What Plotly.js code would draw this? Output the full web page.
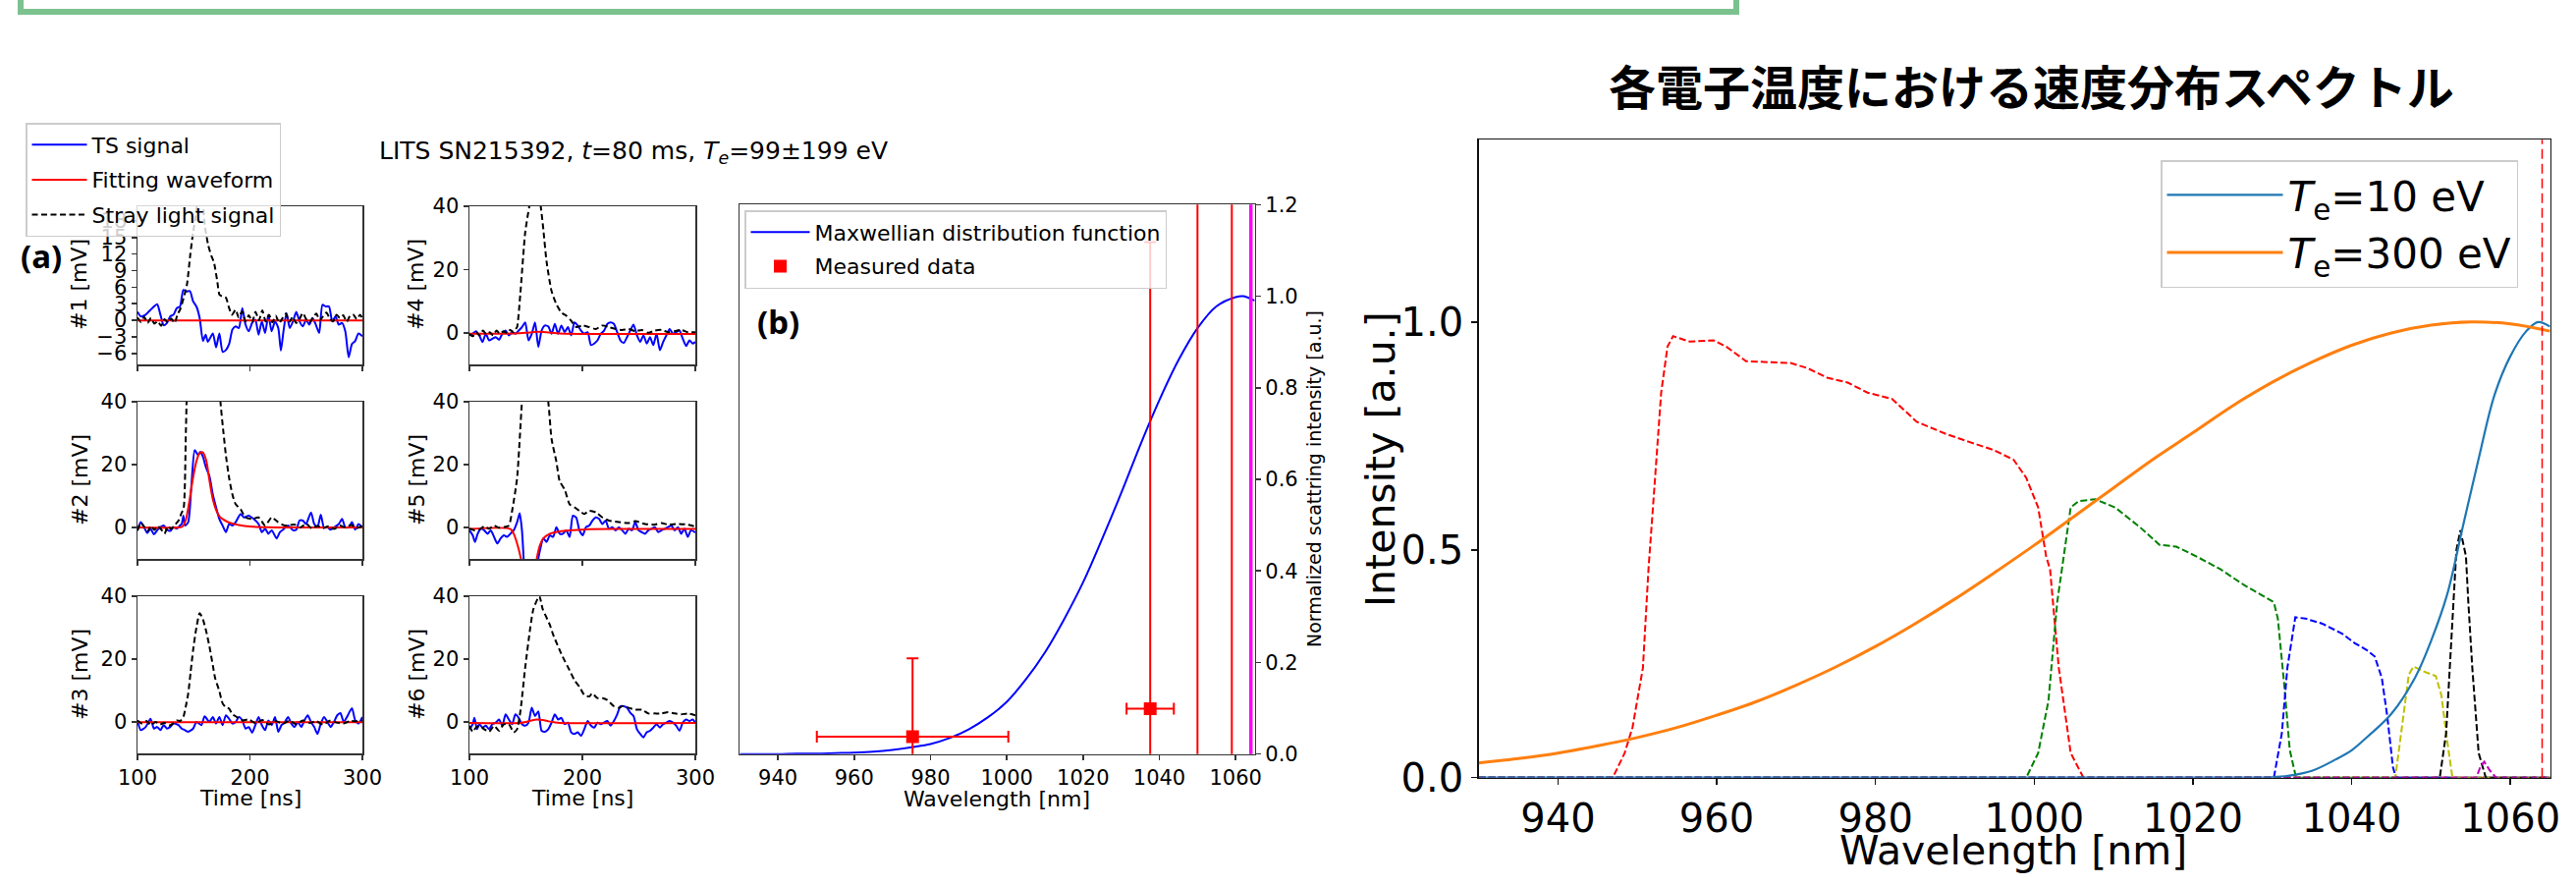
<!DOCTYPE html>
<html><head><meta charset="utf-8">
<script src="https://cdn.plot.ly/plotly-3.0.1.min.js"></script>
<style>html,body{margin:0;padding:0;background:#fff}#chart{width:2623px;height:901px}</style>
</head><body><div id="chart"></div>
<script>
// ---------------- DATA ----------------
// Panel (a): channel waveforms, time in ns, signal in mV
const ch1_t = [100,102.9,107.3,110.2,113.1,117.5,120.4,123.3,126.2,129.1,132.0,134.9,137.8,140.8,143.7,146.6,149.5,152.4,155.3,158.2,160.6,162.6,167.0,169.9,172.8,175.7,178.6,181.5,184.4,187.3,190.2,193.2,196.1,199.0,201.9,204.8,207.7,210.6,213.5,216.4,219.3,222.3,225.2,227.5,229.8,232.5,235.4,238.3,241.2,244.1,247.0,250.0,252.8,255.7,258.6,261.6,264.5,267.4,270.3,273.2,276.1,279.0,281.9,284.8,287.8,290.7,293.6,296.5,300];
const ch1_ts = [1.5,0.7,1.0,1.6,2.2,2.9,1.0,-0.9,-0.5,0.7,1.0,2.2,2.5,5.5,5.2,5.3,3.4,2.5,0.4,-3.75,-2.6,-3.9,-2.4,-4.9,-2.4,-5.7,-5.4,-4.3,-1.7,-1.1,-1.4,2.2,-0.8,-2.0,-0.5,0.1,-2.6,-0.2,-2.3,1.0,-2.0,-0.2,-1.4,-5.5,-2.0,1.3,-1.4,-0.2,1.5,-0.2,-1.1,0.1,-0.8,0.4,-0.8,-2.3,2.8,2.5,2.5,-0.2,0.7,-0.8,-0.5,-2.0,-6.7,-4.3,-3.75,-2.4,-2.9];
const fit1_t = [100,300];
const fit1_v = [-0.05,-0.05];
const stray1_t = [100,103,106,109,112,115,118,121,124,127,130,133,135.5,138,141,144,147,149.5,152,155,158,160,163,166,168,171,173,176,178.6,181.5,184,187.3,190,193,196,199,202,205,208,211,214,217,220,223,226,229,232,235,238,241,244,247,250,253,256,259,262,265,268,271,274,277,280,283,286,289,292,295,298,300];
const stray1_v = [0.5,-0.3,0.6,-0.5,0.4,-0.6,-0.2,-1.0,0.2,-0.4,0.3,-0.5,1.0,2.0,4.0,6.5,12,16,19,24,21.5,17,13.5,11.5,10.5,7,4.6,4.3,4.1,2.2,1.0,1.9,0.5,1.6,-0.2,0.9,-0.3,1.5,0,1.8,-0.2,1.0,-0.4,0.8,-0.5,0.4,1.2,-0.3,0.6,-0.5,0.2,1.3,0.2,-0.4,0.5,1.2,0.0,0.7,1.4,0.3,-0.2,1.0,0.4,0.9,-0.3,0.8,1.0,0.2,1.0,0.3];

const ch2_t = [100,102.9,105.8,108.7,111.6,114.6,117.5,120.4,123.3,126.2,129.1,132.0,134.9,137.8,139.3,140.8,142.2,145.1,148.0,150.9,153.9,155.9,158.2,161.1,164.0,167.0,169.9,172.8,175.7,178.6,181.5,184.4,187.3,191.7,194.6,199.0,203.3,207.7,210.6,213.5,216.4,219.4,223.7,226.6,229.5,233.9,238.3,241.2,244.1,247.0,249.9,254.3,257.2,260.1,263.0,265.9,268.9,271.8,274.7,279.0,281.9,284.9,287.8,290.7,293.6,296.5,300];
const ch2_ts = [-0.9,1.7,0.1,-1.8,-0.4,-2.2,-0.9,0.1,0.6,-0.7,-1.1,0.1,-0.4,0.6,1.1,3.75,0.6,1.7,13.6,24.6,23.0,24.1,22.5,18.9,16.3,10.5,6.4,2.7,0.6,-1.5,1.1,0.6,1.7,4.3,3.2,3.75,2.7,1.1,-1.5,-0.4,-2.0,-0.9,-3.5,-1.5,-0.7,0.6,-0.9,-0.7,2.2,2.2,1.1,4.8,1.1,0.1,4.1,-0.1,0.1,-0.7,0.0,1.1,2.7,0.0,0.0,1.7,-0.7,1.1,0.0];
const fit2_t = [100,136,140,143,146,149,152,155,158,161,164,167,170,173,176,180,185,190,200,215,300];
const fit2_v = [0,0,0.3,2.5,8,15,20.5,23.5,23.9,21.5,15,9,5.5,3.5,2.6,1.8,1.2,0.8,0.3,0.05,0];
const stray2_t = [100,103,106,109,112,115,118,121,124,127,130,133,135,137,139,141,143,145,150,160,170,174,176.5,178.6,181.5,184.4,187.3,191.7,196,202,207.7,213.5,219.3,225,231,240,245,250,255,260,265,270,275,280,285,290,295,300];
const stray2_v = [-1.0,1.5,0.2,-1.2,0.5,-0.8,0.4,-0.6,-2.0,0.3,-0.5,0.8,1.5,2.5,4.5,6,30,60,90,100,60,39,30,23,15.7,10.5,7.4,5.8,3.2,2.7,3.2,0.6,3.2,1.7,0.6,0.9,0.0,1.2,-0.3,0.5,-0.2,0.4,-0.5,0.6,0.0,0.8,-0.2,0.5];

const ch3_t = [100,102.9,107.3,111.6,114.6,117.5,120.4,123.3,126.2,129.1,132.0,136.4,139.3,142.2,145.1,149.5,152.4,156.8,159.7,164.0,167.0,169.9,172.8,175.7,178.6,181.5,184.4,187.3,190.2,193.2,196.1,199.0,201.9,204.8,207.7,210.6,213.5,216.4,219.4,222.3,225.2,228.1,231.0,233.9,236.8,239.7,242.6,245.6,248.5,251.4,254.3,257.2,260.1,263.0,265.9,268.9,271.8,274.7,277.6,280.5,283.4,286.3,290.7,293.6,296.5,300];
const ch3_ts = [0.5,-2.6,-1.6,1.0,-2.1,-1.6,-2.6,-1.0,-2.1,-1.6,-0.5,-1.0,-2.1,-2.6,-3.1,-2.1,0,-1.0,1.8,0,1.6,-0.5,1.6,-1.0,2.1,1.0,-0.5,0,1.6,0.5,-2.1,-1.6,-3.4,-1.0,1.6,-1.0,-2.6,0.5,-1.0,1.6,-3.1,-1.0,0,1.6,-0.5,-1.6,0,-1.6,0.5,2.1,0,-1.6,-3.8,-0.5,1.6,0,-1.6,0,2.1,2.8,0,1.6,4.4,0.5,-0.5,1.6];
const fit3_t = [100,300];
const fit3_v = [-0.1,-0.1];
const stray3_t = [100,104,108,112,116,120,124,128,132,135,138,140.8,143,145.1,147.3,149.5,152.4,155.3,158.2,161,164,167,169,172.8,175.7,178.6,181.5,184.4,187.3,193,199,205,211,217,223,229,235,241,247,253,259,265,271,277,283,289,295,300];
const stray3_v = [0.5,-0.5,0.3,-1.0,0.0,-0.8,-0.3,-1.2,-0.4,0.5,0.3,1.6,5,9,16,23,30,34.6,32.6,29,24,18,14,9.8,5.9,4.7,4.2,2.4,1.8,0.5,0.8,-0.4,0.6,-0.8,0.3,-0.6,0.4,-0.7,0.5,-0.3,0.2,-0.8,0.4,-0.2,-0.5,0.3,0.2,0.5];

const ch4_t = [100,102.9,105.8,108.7,111.6,114.5,117.4,120.3,123.3,126.2,129.1,132.0,134.9,137.8,140.7,143.6,146.5,149.4,152.3,155.2,158.1,161.0,163.9,166.9,169.8,172.7,175.6,178.5,181.4,184.3,187.2,190.1,193.0,195.9,198.8,201.7,204.7,207.6,210.5,213.4,216.3,219.2,222.1,225.0,227.9,230.8,233.7,236.6,239.5,242.4,245.3,248.3,251.2,254.1,257.0,259.9,262.8,265.7,268.6,271.5,274.4,277.3,280.2,283.1,286.0,288.9,291.9,294.8,297.7,300];
const ch4_ts = [-0.8,-0.3,0.5,-0.8,-2.9,-0.3,-2.4,-1.9,-1.4,-2.2,-0.3,0.7,-0.8,0.2,-0.3,0.7,1.8,3.3,-2.4,-0.3,3.3,-4.5,0.7,2.3,2.0,-0.3,2.8,-0.3,2.3,0.2,1.8,-0.8,3.3,2.3,0.7,-0.3,0.2,-3.9,-3.4,-2.4,-0.3,0.7,2.8,3.3,2.8,0.2,-2.4,-3.2,-1.4,0.7,2.6,-0.8,-2.9,-0.8,-3.4,-1.4,-3.9,-0.3,-5.5,-2.9,-0.8,1.2,-0.3,0.2,0.7,-1.9,-4.2,-2.4,-3.4,-2.9];
const fit4_t = [100,140,150,160,170,180,300];
const fit4_v = [-0.3,-0.2,0,0.3,0.1,-0.2,-0.4];
const stray4_t = [100,103,106,109,112,115,118,121,124,127,130,133,136,139,141,142.2,145,149.4,153,158,163.1,165.4,168.3,172.7,177,181.4,185.8,190.1,194.5,200,206,211.9,217.7,223.5,229.4,235.2,241,246.8,252.6,258.4,264.2,270,275.9,281.7,287.5,293.3,300];
const stray4_v = [-0.3,-1.1,0.2,-0.8,0.7,-0.5,0.2,-0.8,0.7,-0.3,0.5,-0.1,0.9,0.2,1.2,1.8,12,31.8,40,50,40,32.8,22.5,13.2,9.0,6.4,5.4,3.8,1.8,2.3,1.8,1.2,2.3,1.8,1.2,0.9,1.2,0.5,0.9,0,0.7,0.9,0.2,0.5,0.9,0.2,0.2];

const ch5_t = [100,102.9,104.9,107.3,110.2,113.1,116.0,118.9,121.8,124.7,127.6,130.5,133.4,136.3,139.2,142.2,144.5,146.5,148.0,149.4,150.9,153.8,156.7,159.6,161.0,162.5,165.4,168.3,171.2,174.1,177.0,179.9,182.8,185.8,188.7,191.6,194.5,197.4,200.3,203.2,206.1,209.0,211.9,214.8,217.7,220.6,223.5,226.5,229.4,232.3,235.2,238.1,241.0,243.9,246.8,249.7,252.6,255.5,258.4,261.3,264.2,267.2,270.1,273.0,275.9,278.8,281.7,284.6,287.5,290.4,293.3,296.2,300];
const ch5_ts = [-0.9,-2.5,-4.6,-2.0,-0.4,-0.9,-2.0,-0.9,-3.0,-5.1,-3.5,-2.5,-3.0,-2.0,-0.9,1.7,4.5,-0.9,-10,-20,-28,-30,-28,-20,-10,-7.2,-3.5,-4.6,-2.5,-3.0,0.1,-2.0,-2.0,-0.9,-3.0,3.75,3.2,-0.9,-2.5,0.1,0.6,2.2,3.2,2.7,1.1,2.2,-0.4,0.1,-0.9,0.1,-0.9,-2.0,-0.4,-0.9,1.7,-0.9,-1.5,-2.0,-0.9,-0.4,0.1,-1.5,-0.9,-0.4,0.1,0.6,-0.9,0.1,-2.0,-0.4,-3.0,-0.9,-1.6];
const fit5_t = [100,136.3,139.2,142.2,145.6,149,153,157,159.6,162.5,165.4,171.2,180,188.7,203.2,230,300];
const fit5_v = [-0.5,-0.5,-2.0,-5.1,-10,-18,-25,-18,-10,-5.6,-3.5,-2.0,-1.25,-0.9,-0.6,-0.5,-0.5];
const stray5_t = [100,104.4,108.7,113.1,117.4,121.8,126.2,130.5,134.9,137.8,142.2,146.5,150,155,160,165,169.8,172.7,177,179.9,184.3,188.7,193,197.4,201.7,206.1,211.9,217.7,223.5,232.3,241,246.8,255.5,264.2,270.1,275.9,284.6,293.3,300];
const stray5_v = [-0.4,-0.9,-0.7,0.3,-0.4,0.6,-0.1,0.1,0.6,5.3,15.7,40,55,65,60,50,40,28.2,20.9,14.7,12.1,7.4,6.4,5.3,4.3,5.3,4.8,3.2,2.2,1.7,1.4,2.0,1.1,0.9,1.4,0.9,1.1,0.9,0.3];

const ch6_t = [100,102.9,104.4,106.7,108.7,111.6,114.5,117.4,120.3,123.3,126.2,129.1,132.0,134.9,137.8,140.7,143.6,146.5,149.4,152.3,155.2,158.1,161.0,163.9,166.9,169.8,172.7,175.6,178.5,181.4,184.3,187.2,190.1,193.0,195.9,198.8,201.7,204.7,207.6,210.5,213.4,216.3,219.2,222.1,225.0,227.9,230.8,233.7,236.6,239.5,242.4,245.3,248.3,251.2,254.1,257.0,259.9,262.8,265.7,268.6,271.5,274.4,277.3,280.2,283.1,286.0,288.9,291.9,294.8,297.7,300];
const ch6_ts = [-2.3,-0.7,1.3,-2.3,-0.7,-1.8,-1.2,-2.3,-0.7,-0.2,0.8,-1.2,2.4,0.8,-0.7,2.4,1.3,-0.7,-1.2,-0.2,4.5,1.9,3.4,-2.8,-3.1,-2.3,-0.2,2.4,0.8,1.3,-0.7,-0.2,-3.3,-3.8,-3.3,-4.4,-2.3,0.3,-1.2,-1.8,-0.2,-0.7,-0.2,0.3,-1.2,0.3,2.4,5.0,5.0,4.5,2.9,1.9,-2.3,-3.8,-4.9,-3.3,-2.8,-1.8,-0.7,-1.8,-0.7,-0.2,0.3,-0.2,-1.2,-2.8,-0.2,0.8,0.3,0.8,-0.2];
const fit6_t = [100,145,150,155,160,165,170,175,180,300];
const fit6_v = [-0.3,-0.3,0,0.5,0.8,0.6,0.2,-0.1,-0.3,-0.3];
const stray6_t = [100,102.9,105.8,108.7,113.1,117.4,121.8,126.2,130.5,134.9,139.2,142.2,145.3,149.4,153.8,156.7,161.9,164.8,171.2,174.1,181.4,184.3,188.7,193,197.4,201.7,206.1,208.7,213.1,217.7,222,227.9,232.3,235.2,241,247,252.6,258.4,264.2,270,275.9,281.7,287.5,293.3,300];
const stray6_v = [-1.2,-3.1,-1.8,-1.2,-2.3,-3.1,-1.2,-2.8,-0.7,-0.7,-3.3,-2.3,3.9,17.4,29.8,36,40,36,30.9,27.8,21.6,19.5,16.4,13.3,11.2,8.6,8.1,9.1,7.6,7.6,7.0,5.0,4.5,5.0,4.5,3.9,3.9,2.7,2.7,2.7,3.1,2.7,2.4,2.7,2.1];

// Panel (b): Maxwellian fit and measured points
const maxw_nm = [930,935,940,945,950,955,960,965,970,975,980,985,990,995,1000,1005,1010,1015,1020,1025,1030,1035,1040,1045,1050,1055,1060,1062,1065];
const maxw_v  = [0,0,0,0.001,0.001,0.002,0.003,0.005,0.009,0.015,0.022,0.035,0.054,0.08,0.114,0.163,0.222,0.294,0.375,0.47,0.57,0.675,0.773,0.86,0.93,0.978,0.998,1.0,0.99];
const meas_nm   = [975.3,1037.6];
const meas_v    = [0.038,0.099];
const meas_xerr = [25.1,6.2];
const meas_yerr = [0.171,1.019];
const offscale_nm = [1050,1059];
const laser_nm = 1064;

// Right chart: spectra and filter transmissions
const te10_nm = [930,1000,1025,1030,1032,1035,1038,1040,1042,1045,1048,1050,1052,1054,1056,1058,1060,1062,1063.5,1065];
const te10_v  = [0,0,0,0.001,0.004,0.015,0.04,0.06,0.09,0.14,0.22,0.30,0.40,0.55,0.70,0.84,0.925,0.98,1.0,0.99];
const te300_nm = [930,935,940,945,950,955,960,965,970,975,980,985,990,995,1000,1005,1010,1015,1020,1025,1030,1035,1040,1045,1050,1055,1060,1065];
const te300_v  = [0.032,0.042,0.054,0.07,0.088,0.11,0.137,0.167,0.203,0.243,0.288,0.338,0.392,0.45,0.51,0.573,0.636,0.699,0.757,0.816,0.868,0.912,0.949,0.976,0.993,1.0,0.996,0.98];
const f1_nm = [930,946.9,948.4,949.4,950.7,951.4,952.2,953.0,953.8,954.5,956.6,959.6,961.2,963.7,969.3,971.4,973.9,976.5,979.0,982.1,985.2,988.8,991.8,994.9,997.4,999.0,1000.5,1001.5,1002.0,1003.1,1004.6,1006.2,1065];
const f1_v  = [0,0,0.054,0.111,0.241,0.457,0.65,0.845,0.946,0.969,0.957,0.960,0.946,0.914,0.910,0.899,0.878,0.867,0.845,0.831,0.781,0.755,0.737,0.719,0.698,0.658,0.593,0.486,0.457,0.241,0.054,0,0];
const f2_nm = [930,999.0,1000.5,1001.8,1002.9,1003.6,1004.6,1005.6,1007.7,1010.2,1013.3,1015.8,1017.9,1020.4,1023.5,1026.6,1028.6,1030.2,1030.7,1031.5,1032.2,1033.0,1065];
const f2_v  = [0,0,0.054,0.169,0.385,0.47,0.593,0.607,0.611,0.593,0.55,0.511,0.507,0.486,0.457,0.421,0.40,0.385,0.349,0.205,0.061,0,0];
const f3_nm = [930,1030.2,1031.2,1031.9,1032.9,1034.2,1036.3,1038.8,1040.4,1041.9,1042.9,1043.8,1044.5,1045.2,1045.6,1065];
const f3_v  = [0,0,0.097,0.241,0.352,0.349,0.338,0.316,0.295,0.280,0.266,0.219,0.133,0.023,0,0];
const f4_nm = [930,1045.5,1046.5,1047.2,1047.8,1049.1,1050.6,1051.3,1052.1,1052.7,1065];
const f4_v  = [0,0,0.133,0.226,0.244,0.233,0.223,0.181,0.073,0,0];
const f5_nm = [930,1051.1,1051.9,1052.6,1053.2,1053.7,1054.4,1054.7,1055.2,1056.0,1056.9,1065];
const f5_v  = [0,0,0.097,0.313,0.50,0.543,0.486,0.385,0.241,0.054,0,0];
const f6_nm = [930,1055.7,1056.2,1056.7,1057.4,1058.2,1065];
const f6_v  = [0,0,0.023,0.035,0.016,0,0];

// Tick labels
const timeTicks = [100,200,300];
const mvTicks = [0,20,40];
const ch1Ticks = [-6,-3,0,3,6,9,12,15,18];
const ch1TickText = ['−6','−3','0','3','6','9','12','15','18'];
const nmTicks = [940,960,980,1000,1020,1040,1060];
const bTicks = [0,0.2,0.4,0.6,0.8,1.0,1.2];
const rTicks = [0,0.5,1.0];

// ---------------- LAYOUT HELPERS ----------------
const W=2623,H=901;
const fx=p=>p/W, fy=p=>1-p/H;
const dx=(a,b)=>[fx(a),fx(b)], dy=(top,bot)=>[fy(bot),fy(top)];
const F='DejaVu Sans';
const base = {showline:true, mirror:true, linecolor:'#333', linewidth:1.5, ticks:'outside', ticklen:5, tickwidth:1.5, tickcolor:'#333', showgrid:false, zeroline:false, tickfont:{family:F,size:21,color:'#000'}, automargin:false, fixedrange:true};

const colA=dx(140,369), colB=dx(478,708);
const rows=[dy(210,371),dy(409,569),dy(607,767)];

const layout = {width:W,height:H,margin:{l:0,r:0,t:0,b:0},paper_bgcolor:'#fff',plot_bgcolor:'#fff',showlegend:true,font:{family:F,color:'#000'}};
const chans=[
 [ch1_t,ch1_ts,fit1_t,fit1_v,stray1_t,stray1_v],
 [ch2_t,ch2_ts,fit2_t,fit2_v,stray2_t,stray2_v],
 [ch3_t,ch3_ts,fit3_t,fit3_v,stray3_t,stray3_v],
 [ch4_t,ch4_ts,fit4_t,fit4_v,stray4_t,stray4_v],
 [ch5_t,ch5_ts,fit5_t,fit5_v,stray5_t,stray5_v],
 [ch6_t,ch6_ts,fit6_t,fit6_v,stray6_t,stray6_v]];
const traces=[];
chans.forEach((c,i)=>{
  const n=i+1, xs='x'+(n===1?'':n), ys='y'+(n===1?'':n);
  const xk='xaxis'+(n===1?'':n), yk='yaxis'+(n===1?'':n);
  const col = i<3?colA:colB, row=rows[i%3];
  layout[xk]=Object.assign({},base,{domain:col,anchor:ys,range:[100,300],tickvals:timeTicks,showticklabels:(i%3===2)});
  layout[yk]=Object.assign({},base,{domain:row,anchor:xs,range:n===1?[-8.0,20.65]:[-10,40],tickvals:n===1?ch1Ticks:mvTicks,ticktext:n===1?ch1TickText:undefined});
  const sl = n===1;
  traces.push({x:c[0],y:c[1],xaxis:xs,yaxis:ys,type:'scatter',mode:'lines',name:'TS signal',legendgroup:'ts',showlegend:sl,line:{color:'#0000ff',width:2,shape:'spline',smoothing:0.6}});
  traces.push({x:c[2],y:c[3],xaxis:xs,yaxis:ys,type:'scatter',mode:'lines',name:'Fitting waveform',legendgroup:'fit',showlegend:sl,line:{color:'#ff0000',width:2,shape:'spline',smoothing:0.8}});
  traces.push({x:c[4],y:c[5],xaxis:xs,yaxis:ys,type:'scatter',mode:'lines',name:'Stray light signal',legendgroup:'stray',showlegend:sl,line:{color:'#000',width:2,dash:'6px,3.5px',shape:'spline',smoothing:0.6}});
});

// Panel (b)
layout.xaxis7=Object.assign({},base,{domain:dx(753.3,1277.6),anchor:'y7',range:[930,1065],tickvals:nmTicks});
layout.yaxis7=Object.assign({},base,{domain:dy(208.3,767.7),anchor:'x7',side:'right',range:[0,1.2],tickvals:bTicks,tickformat:'.1f'});
traces.push({x:maxw_nm,y:maxw_v,xaxis:'x7',yaxis:'y7',type:'scatter',mode:'lines',name:'Maxwellian distribution function',legend:'legend2',legendgroup:'mx',line:{color:'#0000ff',width:2,shape:'spline'}});
traces.push({x:meas_nm,y:meas_v,xaxis:'x7',yaxis:'y7',type:'scatter',mode:'markers',name:'Measured data',legend:'legend2',legendgroup:'md',
  marker:{symbol:'square',size:13,color:'#ff0000'},
  error_x:{type:'data',array:meas_xerr,color:'#ff0000',thickness:2,width:6},
  error_y:{type:'data',array:meas_yerr,color:'#ff0000',thickness:2,width:6}});

// Right chart
layout.xaxis8=Object.assign({},base,{domain:dx(1505.6,2596.6),anchor:'y8',range:[930,1065],tickvals:nmTicks,linecolor:'#111',tickcolor:'#111',ticklen:6,tickfont:{family:F,size:40,color:'#000'}});
layout.yaxis8=Object.assign({},base,{domain:dy(142.3,791.7),anchor:'x8',range:[0,1.4],tickvals:rTicks,tickformat:'.1f',linecolor:'#111',tickcolor:'#111',ticklen:6,tickfont:{family:F,size:40,color:'#000'}});
const filt=[[f1_nm,f1_v,'#ff0000'],[f2_nm,f2_v,'#008000'],[f3_nm,f3_v,'#0000ff'],[f4_nm,f4_v,'#bfbf00'],[f5_nm,f5_v,'#000000'],[f6_nm,f6_v,'#bf00bf']];
filt.forEach(f=>traces.push({x:f[0],y:f[1],xaxis:'x8',yaxis:'y8',type:'scatter',mode:'lines',showlegend:false,line:{color:f[2],width:2,dash:'7px,3px'}}));
traces.push({x:te10_nm,y:te10_v,xaxis:'x8',yaxis:'y8',type:'scatter',mode:'lines',name:'<i>T</i><sub>e</sub>=10 eV',legend:'legend3',legendgroup:'t10',line:{color:'#1f77b4',width:2.2,shape:'spline'}});
traces.push({x:te300_nm,y:te300_v,xaxis:'x8',yaxis:'y8',type:'scatter',mode:'lines',name:'<i>T</i><sub>e</sub>=300 eV',legend:'legend3',legendgroup:'t300',line:{color:'#ff7f0e',width:3,shape:'spline'}});

// Legends
const lg={bgcolor:'rgba(255,255,255,0.8)',bordercolor:'#cccccc',borderwidth:1.5,xanchor:'left',yanchor:'top',traceorder:'grouped'};
layout.legend=Object.assign({},lg,{x:fx(26),y:fy(125),font:{family:F,size:22,color:'#000'},tracegroupgap:4,itemwidth:56});
layout.legend2=Object.assign({},lg,{x:fx(758),y:fy(214),font:{family:F,size:22,color:'#000'},tracegroupgap:3,itemwidth:60});
layout.legend3=Object.assign({},lg,{x:fx(2200),y:fy(163),font:{family:F,size:42,color:'#000'},tracegroupgap:1,itemwidth:118});

// Shapes: vertical reference lines, frame box at top
layout.shapes=[
  ...offscale_nm.map(v=>({type:'line',xref:'x7',yref:'y7 domain',x0:v,x1:v,y0:0,y1:1,line:{color:'#ff0000',width:2}})),
  {type:'line',xref:'x7',yref:'y7 domain',x0:laser_nm,x1:laser_nm,y0:0,y1:1,line:{color:'#ff00ff',width:3.5}},
  {type:'line',xref:'x8',yref:'y8 domain',x0:laser_nm,x1:laser_nm,y0:0,y1:1,line:{color:'#ff0000',width:1.5,dash:'10px,5px'}},
  {type:'rect',xref:'paper',yref:'paper',x0:fx(21),x1:fx(1768),y0:fy(12),y1:fy(-40),line:{color:'#7cc28f',width:6}}
];

// Text annotations
const ann=(t,x,y,o)=>Object.assign({text:t,x:fx(x),y:fy(y),xref:'paper',yref:'paper',showarrow:false,xanchor:'center',yanchor:'middle',font:{family:F,size:22,color:'#000'}},o||{});
layout.annotations=[
  ann('LITS SN215392, <i>t</i>=80 ms, <i>T<sub>e</sub></i>=99±199 eV',645,155,{font:{family:F,size:25,color:'#000'}}),
  ann('#1 [mV]',81,290,{textangle:-90}), ann('#2 [mV]',81,489,{textangle:-90}), ann('#3 [mV]',81,687,{textangle:-90}),
  ann('#4 [mV]',424,290,{textangle:-90}), ann('#5 [mV]',424,489,{textangle:-90}), ann('#6 [mV]',424,687,{textangle:-90}),
  ann('Time [ns]',255,812), ann('Time [ns]',593,812),
  ann('Wavelength [nm]',1015,813),
  ann('Normalized scattring intensity [a.u.]',1338,488,{textangle:-90,font:{family:F,size:19,color:'#000'}}),
  ann('<b>(a)</b>',42,260,{font:{family:'Noto Sans',size:33,color:'#000'}}),
  ann('<b>(b)</b>',792,327,{font:{family:'Noto Sans',size:33,color:'#000'}}),
  ann('<b>各電子温度における速度分布スペクトル</b>',2068,86,{font:{family:'Noto Sans CJK JP',size:48,color:'#000'}}),
  ann('Intensity [a.u.]',1406,467,{textangle:-90,font:{family:F,size:41,color:'#000'}}),
  ann('Wavelength [nm]',2050,866,{font:{family:F,size:41,color:'#000'}})
];

Plotly.newPlot('chart',traces,layout,{staticPlot:true,displayModeBar:false});
</script></body></html>
